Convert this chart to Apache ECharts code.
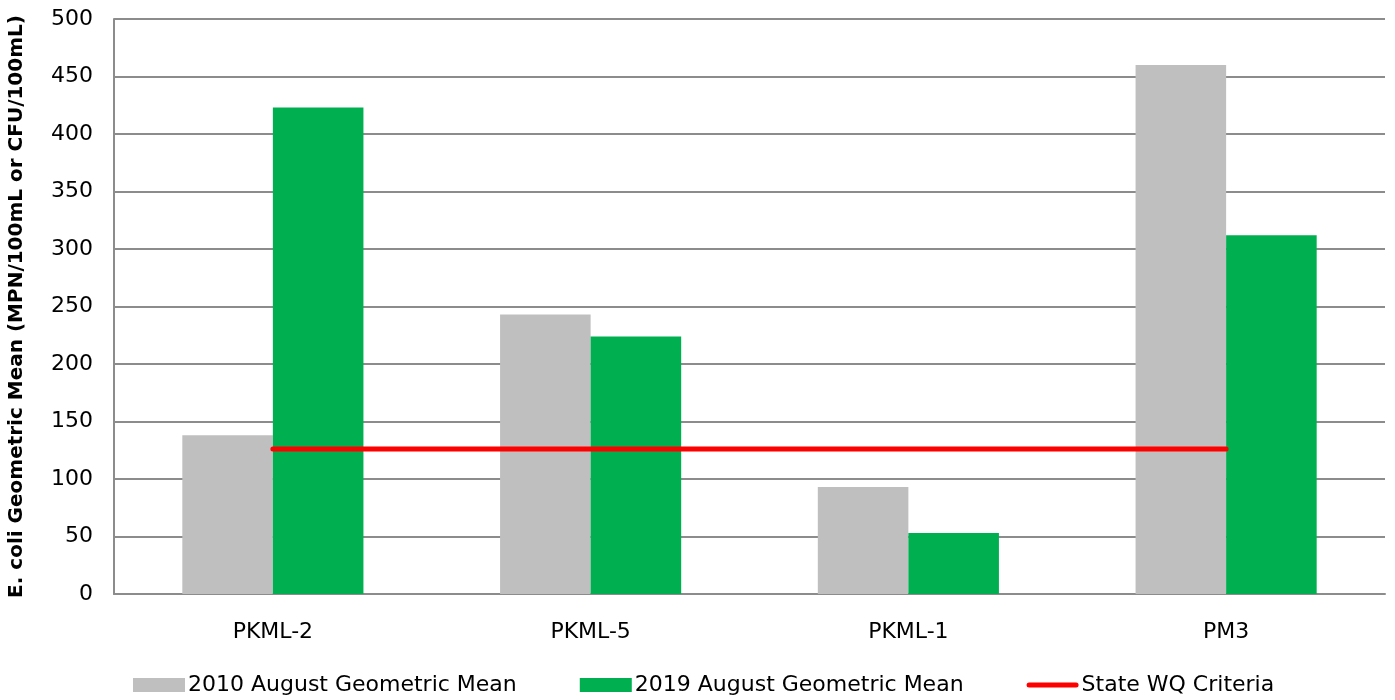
<!DOCTYPE html>
<html>
<head>
<meta charset="utf-8">
<script src="https://cdn.jsdelivr.net/npm/echarts@6/dist/echarts.min.js"></script>
<style>
  html, body { margin: 0; padding: 0; background: #fff; }
  #chart { width: 1395px; height: 700px; }
</style>
</head>
<body>
<div id="chart"></div>
<script>
// Sampling sites along the x axis
const sites = ['PKML-2', 'PKML-5', 'PKML-1', 'PM3'];
// August geometric means of E. coli (MPN/100mL or CFU/100mL)
const mean2010 = [138, 243, 93, 460];
const mean2019 = [423, 224, 53, 312];
// State water-quality criterion, drawn across all sites
const stateCriteria = [126, 126, 126, 126];
// Value axis ticks
const yMin = 0, yMax = 500, yStep = 50;

const fontFamily = '"DejaVu Sans", "Liberation Sans", Arial, sans-serif';
const gridGray = '#8c8c8c';
// thick red stroke with rounded ends for the criteria legend entry
const criteriaIcon = 'path://M2.5,0 H49.5 A2.5,2.5 0 0 1 49.5,5 H2.5 A2.5,2.5 0 0 1 2.5,0 Z';

const chart = echarts.init(document.getElementById('chart'), null, { renderer: 'canvas' });
chart.setOption({
  animation: false,
  backgroundColor: '#ffffff',
  textStyle: { fontFamily: fontFamily, color: '#000' },
  grid: { left: 114, right: 10, top: 19, bottom: 106, containLabel: false, outerBoundsMode: 'none' },
  legend: {
    bottom: 4,
    left: 133,
    padding: 0,
    itemWidth: 52,
    itemHeight: 14,
    itemGap: 63,
    textStyle: { fontSize: 22, color: '#000', fontFamily: fontFamily, padding: [0, 0, 0, -2] },
    data: [
      { name: '2010 August Geometric Mean', icon: 'rect' },
      { name: '2019 August Geometric Mean', icon: 'rect' },
      { name: 'State WQ Criteria', icon: criteriaIcon, itemStyle: { color: '#FF0000' } }
    ]
  },
  xAxis: {
    type: 'category',
    data: sites,
    axisLine: { lineStyle: { color: gridGray, width: 2 } },
    axisTick: { show: false },
    axisLabel: { fontSize: 22, color: '#000', margin: 27 }
  },
  yAxis: {
    type: 'value',
    min: yMin,
    max: yMax,
    interval: yStep,
    name: 'E. coli Geometric Mean (MPN/100mL or CFU/100mL)',
    nameLocation: 'middle',
    nameRotate: 90,
    nameGap: 87,
    nameTextStyle: { fontSize: 20, fontWeight: 'bold', color: '#000' },
    axisLine: { show: true, lineStyle: { color: gridGray, width: 2 } },
    axisTick: { show: false },
    axisLabel: { fontSize: 22, color: '#000', margin: 21 },
    splitLine: { lineStyle: { color: gridGray, width: 2 } }
  },
  series: [
    {
      name: '2010 August Geometric Mean',
      type: 'bar',
      data: mean2010,
      itemStyle: { color: '#BFBFBF' },
      barGap: '0%',
      barCategoryGap: '43%'
    },
    {
      name: '2019 August Geometric Mean',
      type: 'bar',
      data: mean2019,
      itemStyle: { color: '#00B050' },
      barGap: '0%',
      barCategoryGap: '43%'
    },
    {
      name: 'State WQ Criteria',
      type: 'line',
      data: stateCriteria,
      symbol: 'none',
      lineStyle: { color: '#FF0000', width: 5, cap: 'round' },
      itemStyle: { color: '#FF0000' },
      z: 5
    }
  ]
});
</script>
</body>
</html>
